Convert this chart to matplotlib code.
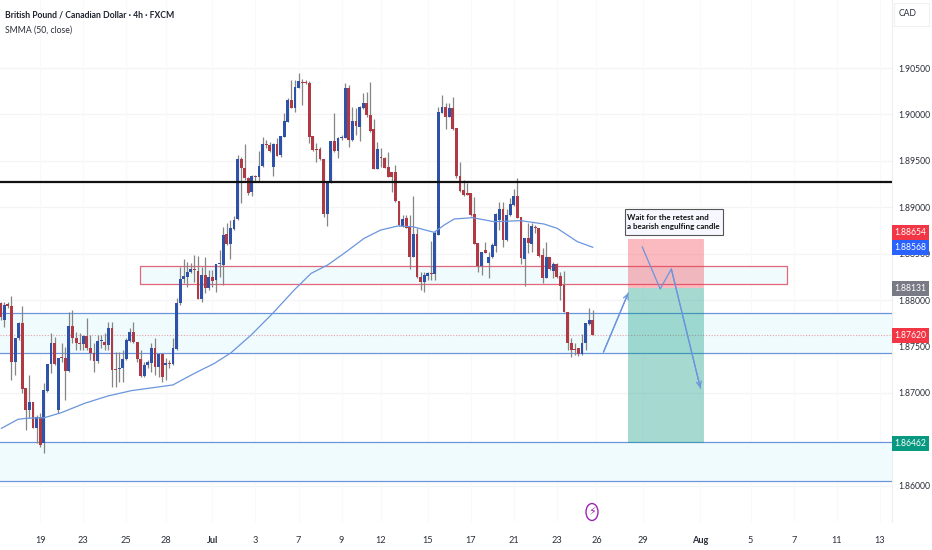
import matplotlib
matplotlib.use("Agg")
import matplotlib.pyplot as plt
from matplotlib.patches import Rectangle, Ellipse

plt.rcParams['font.family'] = ['Lato', 'DejaVu Sans']

# ------------------------------
# DATA
# ------------------------------
opens = [1.87964, 1.87784, 1.87953, 1.87935, 1.87335, 1.87587, 1.87756, 1.87048, 1.86815, 1.86905,
         1.86624, 1.86743, 1.86456, 1.87023, 1.87310, 1.87533, 1.86815, 1.87386, 1.87379, 1.87239,
         1.87720, 1.87594, 1.87537, 1.87526, 1.87612, 1.87479, 1.87425, 1.87343, 1.87562, 1.87551,
         1.87515, 1.87702, 1.87257, 1.87253, 1.87264, 1.87361, 1.87562, 1.87652, 1.87551, 1.87361,
         1.87181, 1.87300, 1.87325, 1.87479, 1.87282, 1.87418, 1.87303, 1.87318, 1.87310, 1.87469,
         1.87964, 1.88223, 1.88251, 1.88298, 1.88330, 1.88312, 1.88011, 1.88269, 1.88126, 1.88251,
         1.88215, 1.88384, 1.88377, 1.88711, 1.88600, 1.88765, 1.88869, 1.89519, 1.89425, 1.89311,
         1.89167, 1.89328, 1.89321, 1.89443, 1.89677, 1.89666, 1.89436, 1.89680, 1.89562, 1.89759,
         1.89921, 1.90154, 1.90064, 1.90287, 1.90351, 1.90341, 1.90341, 1.89766, 1.89623, 1.89623,
         1.89519, 1.88927, 1.89264, 1.89713, 1.89608, 1.89741, 1.89748, 1.90287, 1.89724, 1.89929,
         1.89868, 1.90064, 1.90118, 1.89993, 1.89838, 1.89411, 1.89537, 1.89526, 1.89429, 1.89382,
         1.89382, 1.89063, 1.88801, 1.88880, 1.88790, 1.88467, 1.88711, 1.88244, 1.88197, 1.88259,
         1.88287, 1.88280, 1.88700, 1.90018, 1.90082, 1.89968, 1.90064, 1.89849, 1.89335, 1.89185,
         1.89149, 1.89149, 1.88923, 1.88611, 1.88366, 1.88539, 1.88395, 1.88460, 1.88582, 1.88862,
         1.88977, 1.88647, 1.88916, 1.89023, 1.89120, 1.88898, 1.88442, 1.88672, 1.88603, 1.88790,
         1.88779, 1.88485, 1.88233, 1.88467, 1.88316, 1.88384, 1.88259, 1.88158, 1.87874, 1.87533,
         1.87468, 1.87479, 1.87418, 1.87533, 1.87741, 1.87784]
highs = [1.87982, 1.87982, 1.87982, 1.88043, 1.87587, 1.87767, 1.87935, 1.87048, 1.87192, 1.86905,
         1.86761, 1.86779, 1.87102, 1.87310, 1.87641, 1.87605, 1.87372, 1.87533, 1.87497, 1.87874,
         1.87892, 1.87659, 1.87641, 1.87623, 1.87802, 1.87623, 1.87533, 1.87623, 1.87623, 1.87641,
         1.87767, 1.87767, 1.87443, 1.87443, 1.87461, 1.87587, 1.87702, 1.87767, 1.87551, 1.87461,
         1.87335, 1.87354, 1.87533, 1.87587, 1.87425, 1.87425, 1.87372, 1.87354, 1.87587, 1.88018,
         1.88359, 1.88438, 1.88413, 1.88395, 1.88485, 1.88477, 1.88359, 1.88460, 1.88323, 1.88323,
         1.88388, 1.88539, 1.88790, 1.88826, 1.88862, 1.88905, 1.89562, 1.89544, 1.89680, 1.89328,
         1.89346, 1.89346, 1.89608, 1.89752, 1.89724, 1.89705, 1.89687, 1.89741, 1.89766, 1.90011,
         1.90172, 1.90369, 1.90369, 1.90441, 1.90377, 1.90369, 1.90362, 1.89766, 1.89687, 1.89652,
         1.89519, 1.89275, 1.89713, 1.90018, 1.89752, 1.89777, 1.90334, 1.90316, 1.90075, 1.90064,
         1.90089, 1.90226, 1.90244, 1.90351, 1.89946, 1.89705, 1.89634, 1.89544, 1.89598, 1.89382,
         1.89454, 1.89070, 1.88916, 1.88916, 1.88916, 1.89120, 1.88772, 1.88305, 1.88305, 1.88305,
         1.88636, 1.88747, 1.90082, 1.90208, 1.90126, 1.90118, 1.90183, 1.89849, 1.89490, 1.89293,
         1.89257, 1.89156, 1.89113, 1.88618, 1.88521, 1.88629, 1.88521, 1.88611, 1.88934, 1.89059,
         1.89059, 1.88977, 1.89095, 1.89193, 1.89318, 1.88898, 1.88672, 1.88833, 1.88826, 1.88808,
         1.88779, 1.88557, 1.88629, 1.88467, 1.88413, 1.88395, 1.88305, 1.88316, 1.87874, 1.87587,
         1.87533, 1.87479, 1.87630, 1.87756, 1.87910, 1.87892]
lows = [1.87784, 1.87713, 1.87910, 1.87138, 1.87192, 1.87569, 1.86994, 1.86599, 1.86725, 1.86617,
        1.86456, 1.86420, 1.86348, 1.87012, 1.87210, 1.87300, 1.86779, 1.87335, 1.86923, 1.87228,
        1.87533, 1.87461, 1.87461, 1.87461, 1.87461, 1.87354, 1.87228, 1.87318, 1.87479, 1.87461,
        1.87461, 1.87066, 1.87066, 1.87120, 1.87120, 1.87354, 1.87551, 1.87533, 1.87335, 1.87174,
        1.87174, 1.87264, 1.87228, 1.87192, 1.87174, 1.87120, 1.87138, 1.87264, 1.87300, 1.87461,
        1.87946, 1.88180, 1.88144, 1.88287, 1.88197, 1.88007, 1.87982, 1.88072, 1.88108, 1.88144,
        1.88090, 1.88251, 1.88162, 1.88593, 1.88438, 1.88754, 1.88862, 1.89041, 1.89293, 1.89131,
        1.89124, 1.89275, 1.89275, 1.89436, 1.89634, 1.89598, 1.89339, 1.89551, 1.89544, 1.89752,
        1.89921, 1.90064, 1.90021, 1.90280, 1.90100, 1.90328, 1.89695, 1.89608, 1.89490, 1.89508,
        1.88898, 1.88797, 1.89257, 1.89598, 1.89526, 1.89724, 1.89741, 1.89652, 1.89716, 1.89777,
        1.89716, 1.90057, 1.89975, 1.89813, 1.89407, 1.89407, 1.89429, 1.89418, 1.89321, 1.89167,
        1.89059, 1.88801, 1.88790, 1.88772, 1.88330, 1.88467, 1.88233, 1.88108, 1.88083, 1.88215,
        1.88215, 1.88215, 1.88700, 1.90011, 1.89838, 1.89968, 1.89831, 1.89311, 1.89167, 1.89124,
        1.89131, 1.88909, 1.88600, 1.88305, 1.88269, 1.88503, 1.88233, 1.88449, 1.88521, 1.88754,
        1.88568, 1.88640, 1.88909, 1.89016, 1.88880, 1.88388, 1.88151, 1.88510, 1.88521, 1.88718,
        1.88467, 1.88187, 1.88233, 1.88323, 1.88233, 1.88233, 1.88000, 1.87867, 1.87461, 1.87382,
        1.87407, 1.87400, 1.87407, 1.87461, 1.87731, 1.87620]
closes = [1.87820, 1.87946, 1.87939, 1.87335, 1.87587, 1.87749, 1.87037, 1.86815, 1.86905, 1.86624,
          1.86743, 1.86438, 1.87030, 1.87310, 1.87533, 1.87310, 1.87372, 1.87372, 1.87239, 1.87720,
          1.87587, 1.87533, 1.87526, 1.87612, 1.87479, 1.87425, 1.87343, 1.87562, 1.87569, 1.87515,
          1.87702, 1.87246, 1.87246, 1.87271, 1.87361, 1.87569, 1.87652, 1.87551, 1.87361, 1.87181,
          1.87300, 1.87335, 1.87479, 1.87282, 1.87418, 1.87174, 1.87318, 1.87314, 1.87479, 1.87964,
          1.88223, 1.88259, 1.88305, 1.88330, 1.88323, 1.88011, 1.88269, 1.88126, 1.88244, 1.88208,
          1.88384, 1.88391, 1.88700, 1.88600, 1.88772, 1.88862, 1.89519, 1.89418, 1.89311, 1.89156,
          1.89335, 1.89321, 1.89447, 1.89680, 1.89669, 1.89608, 1.89680, 1.89554, 1.89766, 1.89929,
          1.90154, 1.90064, 1.90290, 1.90359, 1.90341, 1.90338, 1.89760, 1.89616, 1.89616, 1.89516,
          1.88927, 1.89264, 1.89713, 1.89608, 1.89741, 1.89760, 1.90287, 1.89724, 1.89929, 1.89875,
          1.90075, 1.90118, 1.89993, 1.89824, 1.89411, 1.89623, 1.89526, 1.89425, 1.89328, 1.89328,
          1.89063, 1.88808, 1.88873, 1.88779, 1.88467, 1.88711, 1.88244, 1.88197, 1.88269, 1.88287,
          1.88276, 1.88718, 1.90028, 1.90082, 1.89968, 1.90064, 1.89838, 1.89335, 1.89178, 1.89131,
          1.89135, 1.88916, 1.88603, 1.88366, 1.88521, 1.88510, 1.88467, 1.88593, 1.88927, 1.88977,
          1.88647, 1.88916, 1.89034, 1.89120, 1.88887, 1.88449, 1.88672, 1.88611, 1.88797, 1.88779,
          1.88474, 1.88233, 1.88467, 1.88330, 1.88384, 1.88251, 1.88151, 1.87874, 1.87533, 1.87461,
          1.87461, 1.87418, 1.87533, 1.87749, 1.87784, 1.87620]

smma_x = [0.2, 4.8, 7.2, 12.2, 16.9, 23.4, 29.9, 36.4, 48, 54, 59.6, 64.2, 69.8, 75.8, 81.8, 83.7, 86.5,
          91.1, 95.7, 101.3, 105.9, 110.6, 114.8, 120.8, 123.6, 126.4, 131.5, 137.5, 144.9, 151.4, 155.1,
          160.7, 165]
smma_y = [1.86617, 1.86714, 1.86725, 1.86732, 1.86786, 1.86887, 1.86966, 1.87023, 1.87085, 1.87210,
          1.87318, 1.87432, 1.87623, 1.87856, 1.88108, 1.88180, 1.88287, 1.88377, 1.88503, 1.88665,
          1.88754, 1.88797, 1.88790, 1.88729, 1.88808, 1.88873, 1.88887, 1.88844, 1.88855, 1.88819,
          1.88772, 1.88629, 1.88568]

date_ticks = [11, 23, 35, 46, 59, 71, 83, 95, 106, 119, 131, 143, 155, 166, 179, 195, 209, 221, 233, 245]
date_labels = ['19', '23', '25', '28', 'Jul', '3', '7', '9', '12', '15', '17', '21', '23', '26', '29',
               'Aug', '5', '7', '11', '13']
price_ticks = [1.86, 1.87, 1.875, 1.88, 1.885, 1.89, 1.895, 1.90, 1.905]

resistance = 1.89268
zone_top = (1.87856, 1.87432)
zone_bottom = (1.86473, 1.86050)
supply_box = (38.9, 219.2, 1.88169, 1.88370)
entry = 1.88131
stop = 1.88654
target = 1.86462
last_close = 1.87620
smma_last = 1.88568
trade_x = (174.9, 196.1)

# arrows drawn on the chart
retest_x = [168, 174.9]
retest_y = [1.87440, 1.88075]
drop_x = [178.8, 183.8, 186.9, 195]
drop_y = [1.88571, 1.88119, 1.88334, 1.87052]

UP = '#2d52a8'
DOWN = '#b03a44'
WICK = '#858585'
LINE = '#6a95dc'
BAND = '#f0fbfd'

# ------------------------------
# FIGURE
# ------------------------------
W, H = 932, 550
fig = plt.figure(figsize=(W / 100, H / 100), dpi=100, facecolor='white')
ax = fig.add_axes([0, 1 - 522 / H, 892 / W, 522 / H])
ax.set_xlim(-0.2, 248.4)
ax.set_ylim(1.88 - 222 / 9280, 1.88 + 300 / 9280)

for p in price_ticks:
    ax.axhline(p, color='#f4f4f6', lw=0.9, zorder=0)
for t in date_ticks:
    ax.axvline(t, color='#f9f9fa', lw=0.9, zorder=0)

# zones
for top, bottom in (zone_top, zone_bottom):
    ax.axhspan(bottom, top, color=BAND, lw=0, zorder=1)
    ax.axhline(top, color=LINE, lw=0.9, zorder=2)
    ax.axhline(bottom, color=LINE, lw=0.9, zorder=2)

ax.add_patch(Rectangle((supply_box[0], supply_box[2]), supply_box[1] - supply_box[0],
                       supply_box[3] - supply_box[2], fc=BAND, ec='#e2677a', lw=0.9, zorder=2))

# trade box
ax.add_patch(Rectangle((trade_x[0], entry), trade_x[1] - trade_x[0], stop - entry,
                       fc='#f23645', alpha=0.34, lw=0, zorder=4))
ax.add_patch(Rectangle((trade_x[0], target), trade_x[1] - trade_x[0], entry - target,
                       fc='#089981', alpha=0.36, lw=0, zorder=4))

ax.axhline(resistance, color='#111111', lw=1.6, zorder=5)
ax.axhline(last_close, color='#e8a0a6', lw=0.8, ls=(0, (1, 1.5)), zorder=2)

# candles
xs = list(range(len(opens)))
colors = [UP if c >= o else DOWN for o, c in zip(opens, closes)]
ax.vlines(xs, lows, highs, color=WICK, lw=0.9, zorder=3)
heights = [max(abs(c - o), 0.00012) for o, c in zip(opens, closes)]
bottoms = [min(o, c) for o, c in zip(opens, closes)]
ax.bar(xs, heights, bottom=bottoms, width=0.8, color=colors, lw=0, zorder=3.5)

ax.plot(smma_x, smma_y, color=LINE, lw=0.9, zorder=6)

# drawn arrows
ax.plot(retest_x, retest_y, color=LINE, lw=0.9, zorder=7)
ax.annotate('', xy=(retest_x[-1], retest_y[-1]), xytext=(retest_x[-2], retest_y[-2]),
            arrowprops=dict(arrowstyle='->', color=LINE, lw=0.9, shrinkA=0, shrinkB=0, mutation_scale=9), zorder=7)
ax.plot(drop_x, drop_y, color=LINE, lw=0.9, zorder=7)
ax.annotate('', xy=(drop_x[-1], drop_y[-1]), xytext=(drop_x[-2], drop_y[-2]),
            arrowprops=dict(arrowstyle='->', color=LINE, lw=0.9, shrinkA=0, shrinkB=0, mutation_scale=9), zorder=7)

# note
ax.add_patch(Rectangle((173.9, 1.88700), 27.5, 0.00280, fc='#f7f8ff', ec='#555555', lw=0.8, zorder=8))
ax.text(174.5, 1.88840, 'Wait for the retest and\na bearish engulfing candle', fontsize=5.8,
        fontweight='bold', color='#111111', va='center', ha='left', linespacing=1.3, zorder=9)

# axes
for name, spine in ax.spines.items():
    spine.set_visible(name == 'right')
    spine.set_color('#eeeeee')
ax.yaxis.tick_right()
ax.set_yticks(price_ticks)
ax.set_yticklabels([f'{p:.5f}' for p in price_ticks], fontsize=6.2, color='#2a2e39')
ax.set_xticks(date_ticks)
ax.set_xticklabels(date_labels, fontsize=6.6, color='#2a2e39')
for lab, name in zip(ax.get_xticklabels(), date_labels):
    if name in ('Jul', 'Aug'):
        lab.set_fontweight('bold')
ax.tick_params(length=0, pad=10, axis='x')
ax.tick_params(length=0, pad=4.5, axis='y')

# price tags, the red one sits above the blue one as on the chart
tag_values = [stop, smma_last, entry, last_close, target]
tag_centres = [1.88727, 1.88568, 1.88124, 1.87620, 1.86454]
tag_colors = ['#f23645', '#2962ff', '#787b86', '#f23645', '#089981']
ytrans = ax.get_yaxis_transform()
for value, centre, col in zip(tag_values, tag_centres, tag_colors):
    ax.add_patch(Rectangle((1.0, centre - 7.5 / 9280), 37 / 892, 15 / 9280, transform=ytrans, fc=col, lw=0,
                           clip_on=False, zorder=19))
    ax.text(1.0 + 18.5 / 892, centre, f'{value:.5f}', transform=ytrans, fontsize=6.2, color='white',
            va='center', ha='center', zorder=20, clip_on=False)

# header
fig.text(5 / W, 1 - 15 / H, 'British Pound / Canadian Dollar · 4h · FXCM', fontsize=6.2, fontweight='bold',
         color='#1e222d', va='center')
fig.text(5 / W, 1 - 30 / H, 'SMMA (50, close)', fontsize=6.2, color='#2a2e39', va='center')
fig.text(908 / W, 1 - 14 / H, 'CAD', fontsize=6.2, color='#2a2e39', va='center', ha='center')
fig.add_artist(Rectangle((894 / W, 1 - 26 / H), 35 / W, 23 / H, fc='none', ec='#f0f0f0', lw=0.8,
                         transform=fig.transFigure))

# event icon
fig.add_artist(Ellipse((592 / W, 1 - 512 / H), 12 / W, 17 / H, fc='none', ec='#9c27b0', lw=1.0,
                       transform=fig.transFigure))
fig.text(592 / W, 1 - 512 / H, '\u26a1', fontsize=8, color='#9c27b0', ha='center', va='center',
         family='DejaVu Sans')

fig.savefig('out.png', dpi=100)
